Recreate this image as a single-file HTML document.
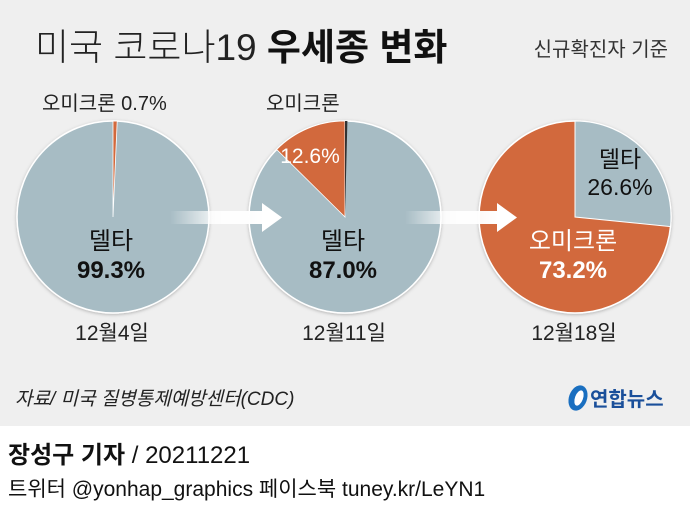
<!DOCTYPE html>
<html><head><meta charset="utf-8"><style>
body{margin:0;width:690px;height:505px;overflow:hidden;background:#fff;font-family:"Liberation Sans","Noto Sans CJK KR",sans-serif}
</style></head><body>
<svg width="690" height="505" viewBox="0 0 690 505" xmlns="http://www.w3.org/2000/svg" style="display:block">
<defs>
<linearGradient id="ar" x1="0" x2="1"><stop offset="0" stop-color="#fff" stop-opacity="0"/><stop offset="0.5" stop-color="#fff" stop-opacity="0.9"/><stop offset="1" stop-color="#fff"/></linearGradient>
<filter id="sh" x="-20%" y="-20%" width="140%" height="140%"><feDropShadow dx="0" dy="1" stdDeviation="1.5" flood-color="#000" flood-opacity="0.25"/></filter>
</defs>
<rect x="0" y="0" width="690" height="426" fill="#efefef"/>
<g font-family="Liberation Sans, Noto Sans CJK KR, sans-serif">
<text x="35" y="60" font-size="37" fill="#222" font-weight="300">미국 코로나19 <tspan font-weight="bold" fill="#111">우세종 변화</tspan></text>
<text x="668" y="56" font-size="20" fill="#333" text-anchor="end">신규확진자 기준</text>

<g filter="url(#sh)">
<circle cx="113" cy="217" r="96" fill="#a7bcc4" stroke="#fff" stroke-width="1.5"/>
<path d="M113,217 L113,121 A96,96 0 0 1 117.2,121.1 Z" fill="#d2693d" stroke="#fff" stroke-width="0.8"/>
</g>
<g filter="url(#sh)">
<circle cx="345" cy="217" r="96" fill="#a7bcc4" stroke="#fff" stroke-width="1.5"/>
<path d="M345,217 L276.7,149.5 A96,96 0 0 1 345,121 Z" fill="#d2693d" stroke="#fff" stroke-width="0.8"/>
<path d="M345,217 L345,121 A96,96 0 0 1 347.4,121 Z" fill="#333"/>
</g>
<g filter="url(#sh)">
<circle cx="575" cy="217" r="96" fill="#d2693d" stroke="#fff" stroke-width="1.5"/>
<path d="M575,217 L575,121 A96,96 0 0 1 670.5,226.6 Z" fill="#a7bcc4" stroke="#fff" stroke-width="1"/>
</g>

<rect x="170" y="211" width="95" height="13" fill="url(#ar)"/>
<path d="M262,203 L282,217.5 L262,232 Z" fill="#fff"/>
<rect x="405" y="211" width="95" height="13" fill="url(#ar)"/>
<path d="M497,203 L517,217.5 L497,232 Z" fill="#fff"/>

<text x="42" y="110" font-size="20" fill="#222">오미크론 0.7%</text>
<text x="266" y="110" font-size="20" fill="#222">오미크론</text>
<text x="310" y="163" font-size="21" fill="#fff" text-anchor="middle">12.6%</text>

<text x="111" y="249" font-size="24" fill="#111" text-anchor="middle">델타</text>
<text x="111" y="278" font-size="24" fill="#111" font-weight="bold" text-anchor="middle">99.3%</text>
<text x="343" y="249" font-size="24" fill="#111" text-anchor="middle">델타</text>
<text x="343" y="278" font-size="24" fill="#111" font-weight="bold" text-anchor="middle">87.0%</text>
<text x="620" y="167" font-size="23" fill="#111" text-anchor="middle">델타</text>
<text x="620" y="195" font-size="23" fill="#111" text-anchor="middle">26.6%</text>
<text x="573" y="249" font-size="24" fill="#fff" text-anchor="middle">오미크론</text>
<text x="573" y="278" font-size="24" fill="#fff" font-weight="bold" text-anchor="middle">73.2%</text>

<text x="112" y="340" font-size="21" fill="#222" text-anchor="middle">12월4일</text>
<text x="344" y="340" font-size="21" fill="#222" text-anchor="middle">12월11일</text>
<text x="574" y="340" font-size="21" fill="#222" text-anchor="middle">12월18일</text>

<text x="15" y="405" font-size="19" fill="#222" font-style="italic">자료/ 미국 질병통제예방센터(CDC)</text>
<ellipse cx="578" cy="398" rx="9" ry="13" fill="#1a6fc0" transform="rotate(20 578 398)"/>
<ellipse cx="579" cy="398" rx="4" ry="8" fill="#fff" transform="rotate(20 579 398)"/>
<text x="590" y="406" font-size="20" fill="#1a4f9a" font-weight="bold">연합뉴스</text>

<text x="8" y="463" font-size="24" fill="#111"><tspan font-weight="bold">장성구 기자</tspan>  /  20211221</text>
<text x="8" y="496" font-size="21" fill="#111">트위터 @yonhap_graphics  페이스북 tuney.kr/LeYN1</text>
</g>
</svg>
</body></html>
